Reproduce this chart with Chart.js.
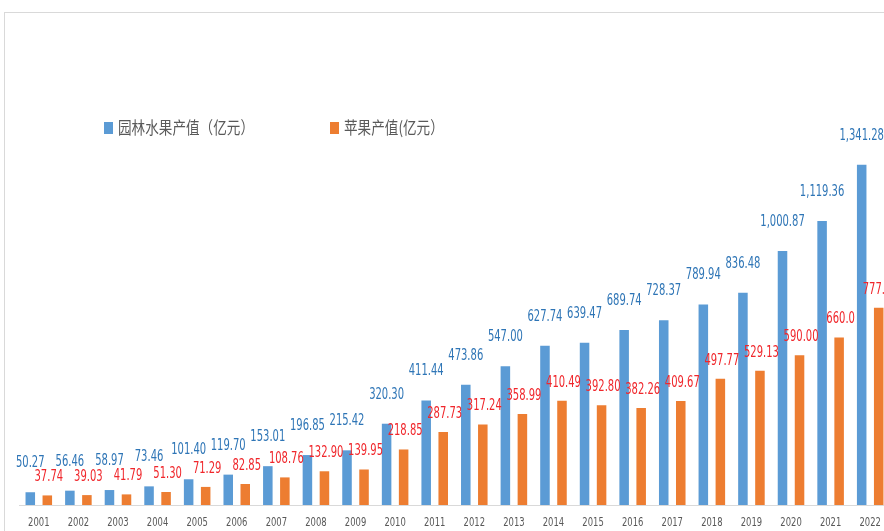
<!DOCTYPE html>
<html>
<head>
<meta charset="utf-8">
<script src="https://cdn.jsdelivr.net/npm/chart.js@4.4.1/dist/chart.umd.min.js"></script>
<style>
  html, body { margin: 0; padding: 0; background: #fff; overflow: hidden; }
  #wrap { position: relative; width: 884px; height: 531px; overflow: hidden; }
  #frame { position: absolute; left: 4px; top: 12px; width: 1000px; height: 600px;
           border-left: 1px solid #d9d9d9; border-top: 1px solid #d9d9d9; }
  #chart { position: absolute; left: 0; top: 0; }
</style>
</head>
<body>
<div id="wrap">
  <div id="frame"></div>
  <canvas id="chart" width="900" height="531"></canvas>
</div>
<script>
const years = ['2001', '2002', '2003', '2004', '2005', '2006', '2007', '2008', '2009', '2010', '2011',
  '2012', '2013', '2014', '2015', '2016', '2017', '2018', '2019', '2020', '2021', '2022'];

// value labels as printed on the chart; bar heights are parsed from these
const fruitText = ['50.27', '56.46', '58.97', '73.46', '101.40', '119.70', '153.01', '196.85', '215.42',
  '320.30', '411.44', '473.86', '547.00', '627.74', '639.47', '689.74', '728.37', '789.94', '836.48',
  '1,000.87', '1,119.36', '1,341.28'];
const appleText = ['37.74', '39.03', '41.79', '51.30', '71.29', '82.85', '108.76', '132.90', '139.95',
  '218.85', '287.73', '317.24', '358.99', '410.49', '392.80', '382.26', '409.67', '497.77', '529.13',
  '590.00', '660.0', '777.00'];

const fruitValues = fruitText.map(s => Number(s.replace(/,/g, '')));
const appleValues = appleText.map(s => Number(s.replace(/,/g, '')));

const seriesNames = ['园林水果产值（亿元）', '苹果产值(亿元）'];

const narrow = '"Liberation Sans Narrow", "DejaVu Sans Condensed", sans-serif';

// numbers above each bar, squeezed horizontally
const valueLabels = {
  id: 'valueLabels',
  afterDatasetsDraw(chart) {
    const ctx = chart.ctx;
    const styles = [
      { color: '#2e75b6', lift: 29, dx: 0, texts: fruitText },
      { color: '#f0262b', lift: 18, dx: 1.5, texts: appleText }
    ];
    chart.data.datasets.forEach((ds, i) => {
      const meta = chart.getDatasetMeta(i);
      const st = styles[i];
      meta.data.forEach((bar, j) => {
        ctx.save();
        ctx.translate(bar.x + st.dx, bar.y - st.lift);
        ctx.scale(0.74, 1);
        ctx.font = '15px ' + narrow;
        ctx.fillStyle = st.color;
        ctx.textAlign = 'center';
        ctx.textBaseline = 'middle';
        ctx.fillText(st.texts[j], 0, 0);
        ctx.restore();
      });
    });
  }
};

// year labels under the axis, condensed like the value labels
const yearLabels = {
  id: 'yearLabels',
  afterDraw(chart) {
    const ctx = chart.ctx;
    const xs = chart.scales.x;
    ctx.save();
    ctx.font = '12px ' + narrow;
    ctx.fillStyle = '#595959';
    ctx.textAlign = 'center';
    ctx.textBaseline = 'middle';
    chart.data.labels.forEach((lab, i) => {
      ctx.save();
      ctx.translate(xs.getPixelForTick(i), xs.top + 18);
      ctx.scale(0.78, 1);
      ctx.fillText(lab, 0, 0);
      ctx.restore();
    });
    ctx.restore();
  }
};

// legend sits inside the plot, two items on one row
const insideLegend = {
  id: 'insideLegend',
  afterDraw(chart) {
    const ctx = chart.ctx;
    const xs = [104, 330];
    const y = 128;
    chart.data.datasets.forEach((ds, i) => {
      ctx.save();
      ctx.fillStyle = ds.backgroundColor;
      ctx.fillRect(xs[i], y - 6, 9, 12);
      ctx.translate(xs[i] + 14, y);
      ctx.scale(0.8, 1);
      ctx.font = '17px "Noto Sans CJK SC", sans-serif';
      ctx.fillStyle = '#595959';
      ctx.textBaseline = 'middle';
      ctx.fillText(ds.label, 0, 0);
      ctx.restore();
    });
  }
};

new Chart(document.getElementById('chart'), {
  type: 'bar',
  data: {
    labels: years,
    datasets: [
      { label: seriesNames[0], data: fruitValues, backgroundColor: '#5b9bd5' },
      { label: seriesNames[1], data: appleValues, backgroundColor: '#ed7d31' }
    ]
  },
  options: {
    responsive: false,
    animation: false,
    devicePixelRatio: 1,
    layout: { padding: { left: 19, right: 10, top: 99, bottom: 0 } },
    datasets: { bar: { categoryPercentage: 0.86, barPercentage: 0.56 } },
    plugins: {
      legend: { display: false },
      tooltip: { enabled: false }
    },
    scales: {
      x: {
        grid: { display: false, drawTicks: false },
        border: { display: true, color: '#d9d9d9', width: 1 },
        ticks: { display: false },
        afterFit: scale => { scale.height = 26; }
      },
      y: {
        display: false,
        min: 0,
        max: 1600
      }
    }
  },
  plugins: [valueLabels, yearLabels, insideLegend]
});
</script>
</body>
</html>
